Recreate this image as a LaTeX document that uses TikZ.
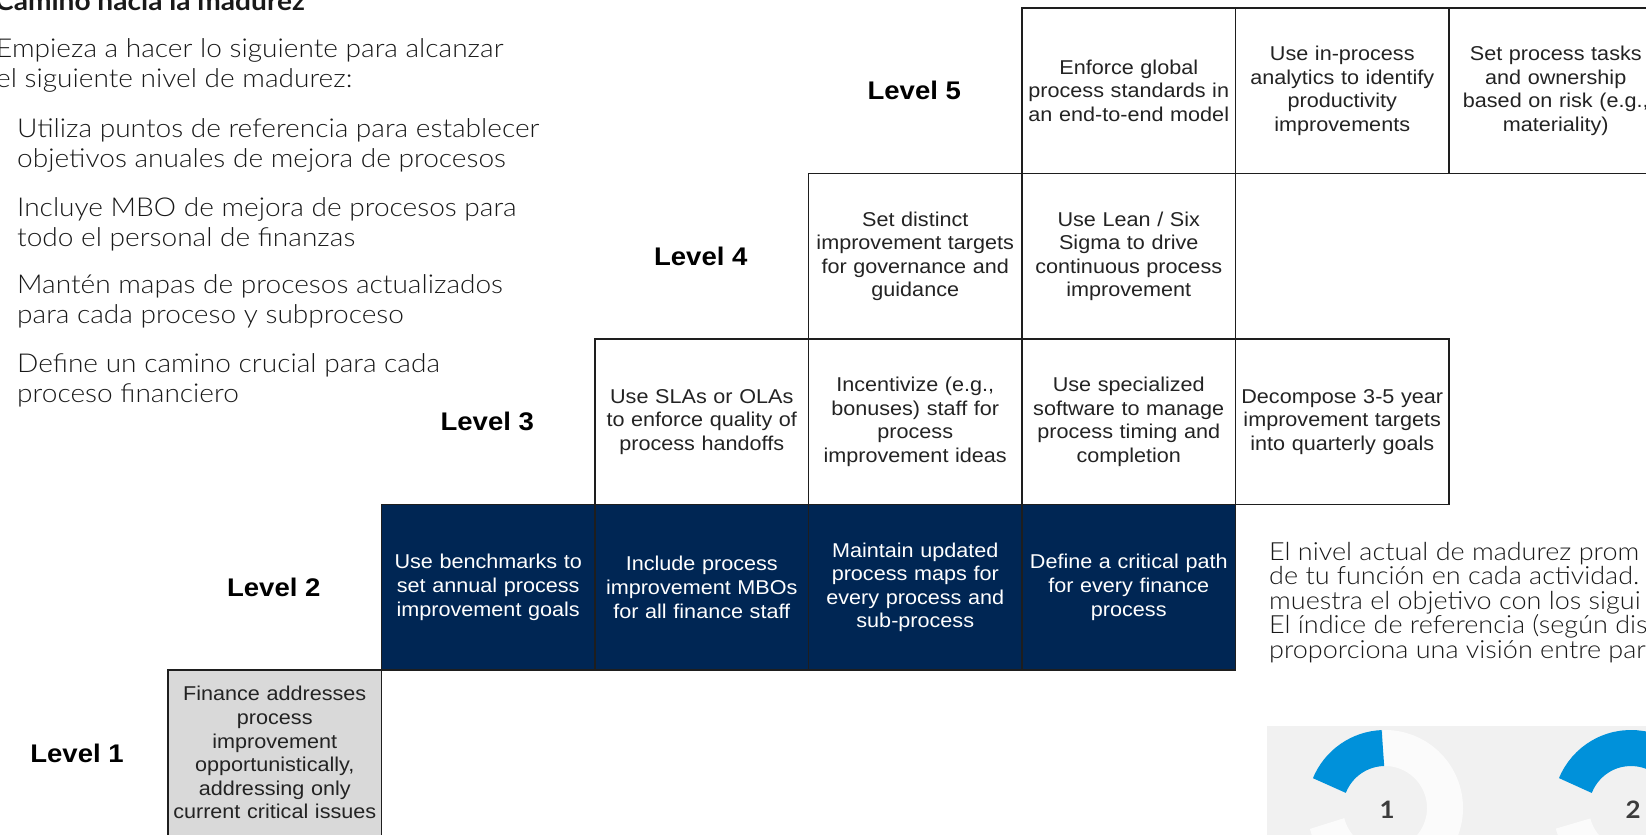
\documentclass[tikz,border=0pt]{standalone}
\usepackage{fontspec}
\usepackage{xcolor}
\usepackage{tikz}
\usetikzlibrary{positioning}
\IfFontExistsTF{Lato Light}{\newfontfamily\graphik{Lato Light}[FakeStretch=1.08]}{\newfontfamily\graphik{Lato}[FakeStretch=1.08]}
\newfontfamily\graphikb{Lato}[FakeStretch=1.08]
\newfontfamily\cellfont{Liberation Sans}[FakeStretch=1.08]
\definecolor{navy}{RGB}{0, 38, 84}
\definecolor{edge}{RGB}{30, 30, 30}
\definecolor{celltext}{RGB}{35, 35, 35}
\definecolor{lonegray}{RGB}{217, 217, 217}
\definecolor{panel}{RGB}{241, 241, 241}
\definecolor{ring}{RGB}{251, 251, 251}
\definecolor{gblue}{RGB}{0, 145, 218}
\definecolor{ink}{RGB}{25, 25, 25}
\definecolor{digit}{RGB}{60, 60, 60}

\begin{document}
\begin{tikzpicture}[x=1pt, y=-1pt,
  cell/.style={draw=edge, line width=1.6pt, minimum width=213.5pt, minimum height=165.5pt,
    text width=211pt, inner sep=0pt, align=center, text=celltext,
    font=\cellfont\fontsize{20}{23.6}\selectfont},
  darkcell/.style={cell, fill=navy, text=white},
  graycell/.style={cell, fill=lonegray},
  lvl/.style={font=\cellfont\bfseries\fontsize{25.5}{30}\selectfont, minimum width=213.5pt, inner sep=0pt},
  body/.style={font=\graphik\fontsize{26}{29.5}\selectfont, text=ink, inner sep=0pt, align=left}]
\useasboundingbox (0,0) rectangle (1646,835);
\clip (0,0) rectangle (1646,835);

% Left text (base = last line)
\node[body, anchor=base west, font=\graphikb\bfseries\fontsize{26}{29.5}\selectfont] (title) at (-5,10) {Camino hacia la madurez};
\node[body, anchor=base west] (intro) at (-4,87) {Empieza a hacer lo siguiente para alcanzar\\el siguiente nivel de madurez:};
\node[body, anchor=base west] (st1) at (17,167) {Utiliza puntos de referencia para establecer\\objetivos anuales de mejora de procesos};
\node[body, anchor=base west] (st2) at (17,246) {Incluye MBO de mejora de procesos para\\todo el personal de finanzas};
\node[body, anchor=base west] (st3) at (17,323) {Mantén mapas de procesos actualizados\\para cada proceso y subproceso};
\node[body, anchor=base west] (st4) at (17,402) {Define un camino crucial para cada\\proceso financiero};

% Level 1
\node[graycell] (l1) at (274.75,752.75) {Finance addresses\\process\\improvement\\opportunistically,\\addressing only\\current critical issues};
\node[lvl] (lab1) at (77,753) {Level 1};

% Level 2
\node[darkcell] (l2a) at (488.25,587.25) {Use benchmarks to\\set annual process\\improvement goals};
\node[darkcell] (l2b) at (701.75,587.25) {Include process\\improvement MBOs\\for all finance staff};
\node[darkcell] (l2c) at (915.25,587.25) {Maintain updated\\process maps for\\every process and\\sub-process};
\node[darkcell] (l2d) at (1128.75,587.25) {Define a critical path\\for every finance\\process};
\node[lvl, left=0pt of l2a] (lab2) {Level 2};

% Level 3
\node[cell] (l3a) at (701.75,421.75) {Use SLAs or OLAs\\to enforce quality of\\process handoffs};
\node[cell] (l3b) at (915.25,421.75) {Incentivize (e.g.,\\bonuses) staff for\\process\\improvement ideas};
\node[cell] (l3c) at (1128.75,421.75) {Use specialized\\software to manage\\process timing and\\completion};
\node[cell] (l3d) at (1342.25,421.75) {Decompose 3-5 year\\improvement targets\\into quarterly goals};
\node[lvl, left=0pt of l3a] (lab3) {Level 3};

% Level 4
\node[cell] (l4a) at (915.25,256.25) {Set distinct\\improvement targets\\for governance and\\guidance};
\node[cell] (l4b) at (1128.75,256.25) {Use Lean / Six\\Sigma to drive\\continuous process\\improvement};
\node[lvl, left=0pt of l4a] (lab4) {Level 4};

% Level 5
\node[cell] (l5a) at (1128.75,90.75) {Enforce global\\process standards in\\an end-to-end model};
\node[cell] (l5b) at (1342.25,90.75) {Use in-process\\analytics to identify\\productivity\\improvements};
\node[cell] (l5c) at (1555.75,90.75) {Set process tasks\\and ownership\\based on risk (e.g.,\\materiality)};
\node[lvl, left=0pt of l5a] (lab5) {Level 5};

% Right text
\node[body, anchor=base west, font=\graphik\fontsize{25}{24.5}\selectfont] (note) at (1269,658) {El nivel actual de madurez prom\\de tu función en cada actividad.\\muestra el objetivo con los sigui\\El índice de referencia (según dis\\proporciona una visión entre par};

% Gauges
\fill[panel] (1267,726) rectangle (1646,835);
\coordinate (g1c) at (1385,808);
\coordinate (g2c) at (1631,808);
\draw[ring, line width=36pt] (g1c) ++(92:60pt) arc[start angle=92, end angle=-165, radius=60pt];
\draw[gblue, line width=36pt] (g1c) ++(92:60pt) arc[start angle=92, end angle=158, radius=60pt];
\draw[ring, line width=36pt] (g2c) ++(30:60pt) arc[start angle=30, end angle=-165, radius=60pt];
\draw[gblue, line width=36pt] (g2c) ++(30:60pt) arc[start angle=30, end angle=158, radius=60pt];
\node[font=\graphikb\bfseries\fontsize{24}{28}\selectfont, text=digit] (g1n) at (1387,810) {1};
\node[font=\graphikb\bfseries\fontsize{24}{28}\selectfont, text=digit] (g2n) at (1633,810) {2};
\end{tikzpicture}
\end{document}
